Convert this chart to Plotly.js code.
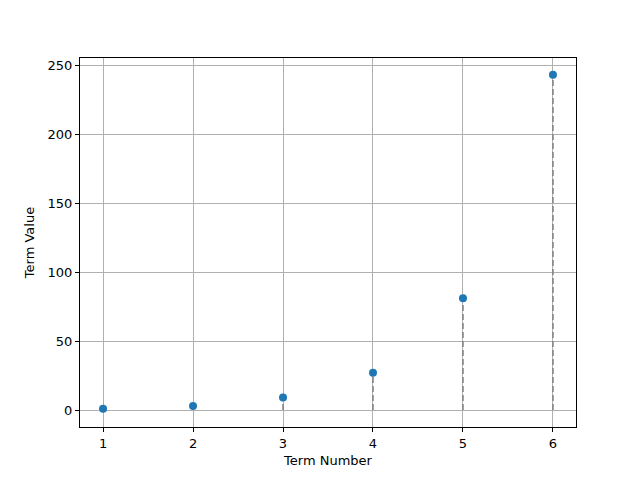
<!DOCTYPE html>
<html>
<head>
<script src="https://cdn.plot.ly/plotly-3.0.1.min.js"></script>
<style>body{margin:0}</style>
</head>
<body>
<div id="plot" style="width:640px;height:480px"></div>
<script>
// Terms of the sequence 3^(n-1)
const termNumbers = [1, 2, 3, 4, 5, 6];
const termValues = [1, 3, 9, 27, 81, 243];

const stems = termNumbers.map((n, i) => ({
  type: "scatter", mode: "lines",
  x: [n, n], y: [0, termValues[i]],
  line: { color: "gray", dash: "6px,3px", width: 1.5 },
  hoverinfo: "skip", showlegend: false,
}));

const points = {
  type: "scatter", mode: "markers",
  x: termNumbers, y: termValues,
  marker: { color: "#1f77b4", size: 8 },
  showlegend: false,
};

const axisBase = {
  showgrid: true, gridcolor: "#b0b0b0", gridwidth: 1,
  zeroline: false, showline: true, mirror: true,
  linecolor: "black", linewidth: 1,
  ticks: "outside", ticklen: 4, tickcolor: "black",
  tickfont: { size: 13, color: "black" },
};

const layout = {
  width: 640, height: 480,
  paper_bgcolor: "white", plot_bgcolor: "white",
  font: { family: "DejaVu Sans, sans-serif", color: "black" },
  margin: { l: 80, r: 64, t: 58, b: 53 },
  xaxis: { ...axisBase, range: [0.744, 6.256], tickvals: termNumbers,
    title: { text: "Term Number", font: { size: 13 }, standoff: 6 } },
  yaxis: { ...axisBase, range: [-12.3, 255.1], tickvals: [0, 50, 100, 150, 200, 250],
    title: { text: "Term Value", font: { size: 13 }, standoff: 10 } },
};

Plotly.newPlot("plot", [...stems, points], layout, { displayModeBar: false, staticPlot: true });
</script>
</body>
</html>
